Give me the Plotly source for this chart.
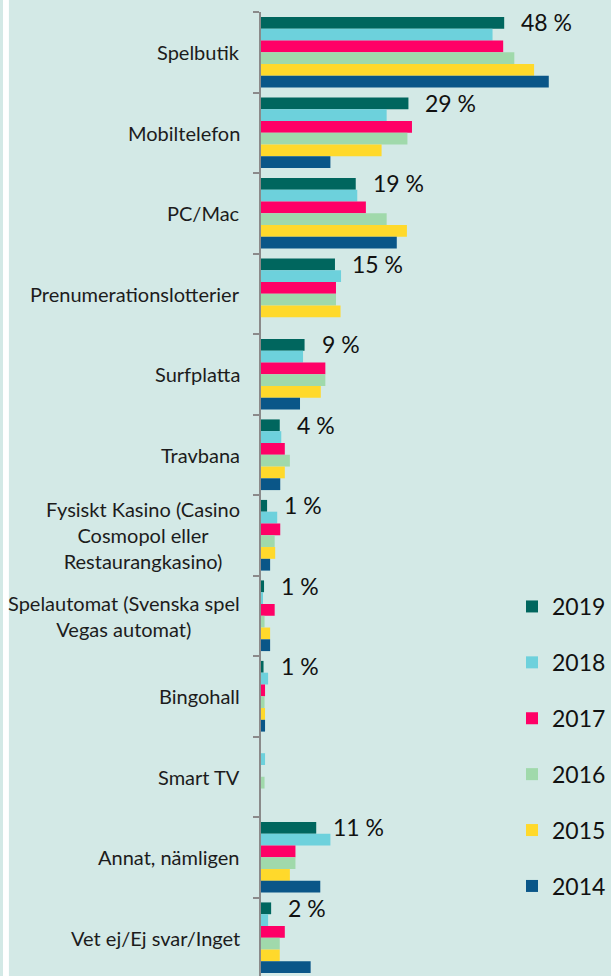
import plotly.graph_objects as go

categories = [
    "Spelbutik",
    "Mobiltelefon",
    "PC/Mac",
    "Prenumerationslotterier",
    "Surfplatta",
    "Travbana",
    "Fysiskt Kasino (Casino<br>Cosmopol eller<br>Restaurangkasino)",
    "Spelautomat (Svenska spel<br>Vegas automat)",
    "Bingohall",
    "Smart TV",
    "Annat, nämligen",
    "Vet ej/Ej svar/Inget",
]

years = ["2019", "2018", "2017", "2016", "2015", "2014"]

v2019 = [48.0, 29.1, 18.7, 14.6, 8.6, 3.7, 1.2, 0.6, 0.5, None, 10.9, 2.0]
v2018 = [45.7, 24.8, 19.0, 15.8, 8.3, 4.0, 3.2, 0.4, 1.4, 0.8, 13.7, 1.4]
v2017 = [47.8, 29.8, 20.7, 14.8, 12.7, 4.7, 3.8, 2.7, 0.8, None, 6.8, 4.7]
v2016 = [50.0, 28.9, 24.8, 14.8, 12.7, 5.7, 2.7, 0.7, 0.7, 0.7, 6.8, 3.7]
v2015 = [53.9, 23.8, 28.8, 15.7, 11.8, 4.7, 2.8, 1.8, 0.8, None, 5.7, 3.7]
v2014 = [56.8, 13.7, 26.8, None, 7.7, 3.8, 1.8, 1.8, 0.8, None, 11.7, 9.8]

labels2019 = ["48 %", "29 %", "19 %", "15 %", "9 %", "4 %", "1 %", "1 %", "1 %", "", "11 %", "2 %"]

series = [v2019, v2018, v2017, v2016, v2015, v2014]
colors = ["#00665e", "#6dd1dc", "#ff0066", "#a0d9ab", "#ffd92b", "#0a5688"]

BG = "#d3e9e6"
W, H = 611, 976
ML, MT = 261, 12
PW = W - ML
PH = H - MT
PX_PER_UNIT = 5.125

fig = go.Figure()
for yr, vals, col in zip(years, series, colors):
    fig.add_trace(go.Bar(
        y=categories, x=vals, name=yr, orientation="h",
        marker=dict(color=col, line=dict(width=0)),
        legendgroup=yr, hoverinfo="x+name",
    ))

annotations = []
for cat in categories:
    annotations.append(dict(
        x=0, xref="paper", y=cat, yref="y", text=cat, showarrow=False,
        xanchor="right", yanchor="middle", align="center", xshift=-19,
        font=dict(family="Lato", size=20, color="#1c1c1c"),
    ))
for cat, val, lab in zip(categories, v2019, labels2019):
    if lab and val is not None:
        annotations.append(dict(
            x=val, xref="x", y=cat, yref="y", text=lab, showarrow=False,
            xanchor="left", yanchor="middle", xshift=15, yshift=30,
            font=dict(family="Lato", size=23, color="#111111"),
        ))

fig.update_layout(
    width=W, height=H,
    margin=dict(l=ML, r=0, t=MT, b=0, pad=0),
    paper_bgcolor=BG, plot_bgcolor=BG,
    barmode="group", bargap=0.122, bargroupgap=0,
    font=dict(family="Lato", color="#111111"),
    xaxis=dict(range=[0, PW / PX_PER_UNIT], visible=False, fixedrange=True),
    yaxis=dict(
        type="category", categoryorder="array", categoryarray=categories,
        range=[11.5 - 0.025, -0.5],
        showticklabels=False, showgrid=False, zeroline=False,
        showline=True, linecolor="#8a8a8a", linewidth=2,
        ticks="outside", tickson="boundaries", ticklen=6, tickwidth=2, tickcolor="#8a8a8a",
    ),
    showlegend=True,
    legend=dict(
        x=(515 - ML) / PW, xanchor="left", y=(H - 585) / PH, yanchor="top",
        bgcolor="rgba(0,0,0,0)", borderwidth=0,
        font=dict(family="Lato", size=23, color="#111111"),
        tracegroupgap=23,
    ),
    annotations=annotations,
    shapes=[dict(type="rect", xref="paper", yref="paper",
                 x0=-ML / PW, x1=(6 - ML) / PW, y0=-0.01, y1=1.02,
                 fillcolor="white", line=dict(width=0), layer="below")],
)

fig.write_html(
    "out.html",
    config={"displayModeBar": False},
    post_script="document.body.style.margin='0';document.body.style.overflow='hidden';",
)
